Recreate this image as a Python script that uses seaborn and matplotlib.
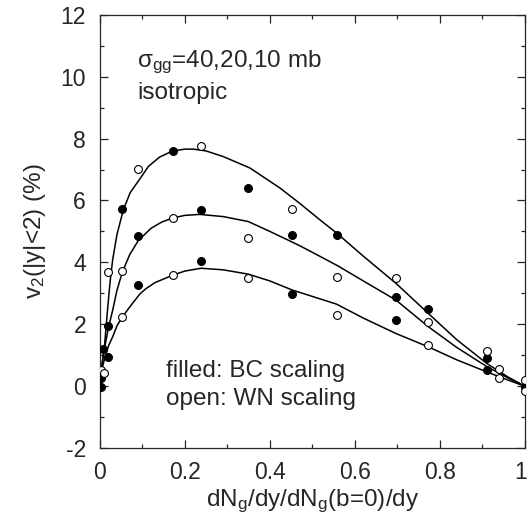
import numpy as np
import pandas as pd
import matplotlib
matplotlib.use("Agg")
import matplotlib.pyplot as plt
import matplotlib.transforms as mtransforms
import seaborn as sns
from matplotlib.ticker import MultipleLocator

# data
# filled symbols (BC scaling)
bc_x = [0.002, 0.002, 0.008, 0.018, 0.019, 0.053, 0.089, 0.089, 0.171, 0.238,
        0.238, 0.349, 0.452, 0.452, 0.558, 0.697, 0.697, 0.773, 0.911, 0.911, 1.0]
bc_y = [-0.02, 0.27, 1.20, 0.93, 1.96, 5.73, 4.85, 3.26, 7.61, 5.70,
        4.06, 6.41, 4.88, 2.99, 4.88, 2.87, 2.15, 2.49, 0.91, 0.51, -0.02]

# open symbols (WN scaling)
wn_x = [0.002, 0.010, 0.019, 0.053, 0.053, 0.089, 0.171, 0.171, 0.238, 0.349, 0.349,
        0.452, 0.558, 0.558, 0.697, 0.773, 0.773, 0.911, 0.939, 0.939, 1.0, 1.0]
wn_y = [0.52, 0.42, 3.70, 3.72, 2.22, 7.01, 5.44, 3.59, 7.76, 4.78, 3.50,
        5.74, 3.52, 2.31, 3.50, 2.07, 1.34, 1.14, 0.57, 0.25, 0.19, -0.17]

# curves for sigma_gg = 40, 20, 10 mb
c40_x = [0.001, 0.01, 0.018, 0.024, 0.03, 0.04, 0.055, 0.071, 0.094, 0.114, 0.14,
         0.171, 0.2, 0.22, 0.25, 0.29, 0.353, 0.424, 0.47, 0.52, 0.557, 0.62,
         0.697, 0.773, 0.84, 0.911, 0.96, 1.0]
c40_y = [0.35, 1.2, 2.5, 3.4, 4.1, 4.9, 5.7, 6.25, 6.7, 7.1, 7.4,
         7.6, 7.66, 7.66, 7.6, 7.42, 7.05, 6.40, 5.91, 5.35, 4.95, 4.2,
         3.32, 2.35, 1.5, 0.73, 0.3, 0.0]

c20_x = [0.001, 0.01, 0.02, 0.03, 0.04, 0.053, 0.07, 0.09, 0.12, 0.145, 0.17, 0.2,
         0.235, 0.29, 0.349, 0.40, 0.452, 0.47, 0.52, 0.561, 0.62, 0.697, 0.773,
         0.84, 0.911, 0.96, 1.0]
c20_y = [0.35, 1.17, 1.9, 2.46, 3.1, 3.70, 4.25, 4.70, 5.1, 5.3, 5.43, 5.52,
         5.55, 5.48, 5.32, 5.0, 4.66, 4.54, 4.18, 3.88, 3.4, 2.78, 1.92,
         1.25, 0.63, 0.27, 0.0]

c10_x = [0.001, 0.01, 0.02, 0.03, 0.04, 0.053, 0.075, 0.094, 0.108, 0.13, 0.172,
         0.2, 0.238, 0.29, 0.349, 0.40, 0.452, 0.50, 0.557, 0.62, 0.697, 0.773,
         0.84, 0.911, 0.96, 1.0]
c10_y = [0.35, 0.84, 1.3, 1.60, 1.95, 2.24, 2.65, 2.98, 3.15, 3.35, 3.59,
         3.72, 3.81, 3.76, 3.62, 3.4, 3.11, 2.9, 2.65, 2.2, 1.70, 1.27,
         0.85, 0.46, 0.2, 0.0]

x_ticks = [0, 0.2, 0.4, 0.6, 0.8, 1.0]
x_ticklabels = ["0", "0.2", "0.4", "0.6", "0.8", "1"]

curves = pd.concat([
    pd.DataFrame({"x": c40_x, "y": c40_y, "sigma": "40"}),
    pd.DataFrame({"x": c20_x, "y": c20_y, "sigma": "20"}),
    pd.DataFrame({"x": c10_x, "y": c10_y, "sigma": "10"}),
])

sns.set_style("ticks")
plt.rcParams["font.family"] = ["Liberation Sans", "DejaVu Sans"]
plt.rcParams["mathtext.fontset"] = "custom"
plt.rcParams["mathtext.rm"] = "Liberation Sans"
plt.rcParams["mathtext.it"] = "Liberation Sans:italic"
plt.rcParams["axes.unicode_minus"] = False

fig = plt.figure(figsize=(5.29, 5.29), dpi=100)
ax = fig.add_axes([0.189, 0.153, 0.803, 0.819])

sns.lineplot(data=curves, x="x", y="y", units="sigma", estimator=None,
             sort=False, color="black", lw=1.1, ax=ax, legend=False)
sns.scatterplot(x=bc_x, y=bc_y, color="black", edgecolor="black", s=32,
                linewidth=0.8, ax=ax, zorder=3)
sns.scatterplot(x=wn_x, y=wn_y, color="white", edgecolor="black", s=32,
                linewidth=0.8, ax=ax, zorder=3)

ax.set_xlim(0, 1)
ax.set_ylim(-2, 12)
ax.xaxis.set_minor_locator(MultipleLocator(0.1))
ax.yaxis.set_major_locator(MultipleLocator(2))
ax.yaxis.set_minor_locator(MultipleLocator(1))
ax.set_xticks(x_ticks)
ax.set_xticklabels(x_ticklabels)
ax.tick_params(which="both", direction="in", top=True, right=True,
               labelsize=16.5, width=0.9)
ax.tick_params(axis="y", pad=10)
ax.tick_params(axis="x", pad=9)
ax.tick_params(which="major", length=6)
ax.tick_params(which="minor", length=3)
for sp in ax.spines.values():
    sp.set_linewidth(0.9)

# last x label sits on the figure edge, nudge it in a little
last = ax.get_xticklabels()[-1]
last.set_transform(last.get_transform() +
                   mtransforms.ScaledTranslation(-4 / 100, 0, fig.dpi_scale_trans))

ax.set_xlabel(r"dN$_{\rm g}$/dy/dN$_{\rm g}$(b=0)/dy", fontsize=17.5, labelpad=3)
ax.set_ylabel(r"v$_{\rm 2}$(|y|<2) (%)", fontsize=17.5, labelpad=9)

ax.text(0.088, 10.3, r"$\mathrm{\sigma}_{\rm gg}$=40,20,10 mb", fontsize=17.5,
        va="baseline")
ax.text(0.088, 9.28, "isotropic", fontsize=17.5, va="baseline")
ax.text(0.155, 0.30, "filled: BC scaling", fontsize=17.5, va="baseline")
ax.text(0.155, -0.61, "open: WN scaling", fontsize=17.5, va="baseline")

fig.savefig("out.png", dpi=100)
